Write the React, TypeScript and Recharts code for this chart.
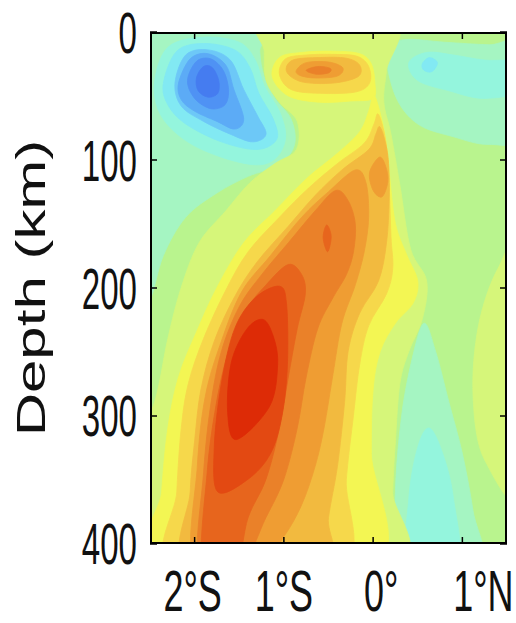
import React from 'react';
import { ScatterChart, Scatter, XAxis, YAxis } from 'recharts';

type Pt = [number, number]; // [longitude in degrees (S negative), depth in km]

const FONT = 'Liberation Sans, Arial, sans-serif';

const W = 516;
const H = 623;
const margin = { top: 32, right: 9, bottom: 79, left: 149 };
const axisBand = 1; // width of the left axis and height of the bottom axis

const xDomain: Pt = [-2.5, 1.5];
const yDomain: Pt = [0, 400];
const xTicks = [-2, -1, 0, 1];
const xTickLabels = ['2°S', '1°S', '0°', '1°N'];
const xLabelNudge = [-2, 0, 8, 21];
const yTicks = [0, 100, 200, 300, 400];

// contour colours, cool (c) and warm (w) levels around the green background
const palette: Record<string, string> = {
  g0: '#b9f48e',
  c1: '#a5f5c2', c2: '#94f5dd', c3: '#82e9f3', c4: '#6dc8f7', c5: '#5cabf6', c6: '#4f92f4', c7: '#457cf0',
  w1: '#d6f67a', w2: '#f3f653', w3: '#f6d84b', w4: '#f2ba3f', w5: '#ef9d33', w6: '#ea8129', w7: '#e7651d', w8: '#e34912', w9: '#dd2b06',
};

// background of the section (slightly larger than the box, clipped to it)
const background: Pt[] = [[-2.7, -20], [1.7, -20], [1.7, 420], [-2.7, 420]];

// cool regions
const coolUpperLeft: Pt[] = [[-2.7, -10], [-1.25, -10], [-1.27, 15], [-1.22, 35], [-1.1, 52], [-0.92, 68], [-0.88, 88], [-1.05, 104], [-1.4, 113], [-1.75, 126], [-2.1, 145], [-2.35, 175], [-2.5, 210], [-2.7, 230]];
const coolTopRight: Pt[] = [[0.15, 15], [0.35, 6], [0.8, 8], [1.3, 10], [1.7, 10], [1.7, 80], [1.3, 88], [0.9, 82], [0.5, 72], [0.25, 50]];
const coolBottomRight: Pt[] = [[0.28, 420], [0.25, 360], [0.32, 300], [0.44, 255], [0.57, 228], [0.7, 250], [0.85, 290], [1.0, 330], [1.12, 375], [1.2, 420]];
const aquaBlob: Pt[] = [[-2.45, 40], [-2.3, 12], [-1.9, 4], [-1.5, 8], [-1.32, 22], [-1.22, 42], [-1.05, 62], [-0.98, 82], [-1.08, 98], [-1.3, 104], [-1.7, 98], [-2.1, 85], [-2.38, 65]];
const aquaTopRight: Pt[] = [[0.4, 24], [0.6, 16], [0.9, 18], [1.25, 22], [1.7, 24], [1.7, 45], [1.25, 52], [0.85, 46], [0.5, 38]];
const aquaBottomRight: Pt[] = [[0.4, 420], [0.4, 365], [0.5, 325], [0.63, 310], [0.78, 330], [0.9, 365], [0.95, 420]];
const cyanBlob: Pt[] = [[-2.35, 40], [-2.2, 15], [-1.9, 9], [-1.55, 14], [-1.38, 28], [-1.28, 48], [-1.12, 68], [-1.08, 84], [-1.3, 92], [-1.7, 86], [-2.1, 72], [-2.3, 57]];
const cyanTopRight: Pt[] = [[0.55, 25], [0.63, 20], [0.72, 24], [0.66, 31], [0.57, 30]];
const lightBlueBlob: Pt[] = [[-2.22, 40], [-2.1, 18], [-1.85, 14], [-1.6, 22], [-1.45, 45], [-1.3, 65], [-1.2, 80], [-1.35, 86], [-1.6, 80], [-1.9, 70], [-2.15, 58]];
const blueBlob: Pt[] = [[-2.18, 40], [-2.05, 21], [-1.85, 17], [-1.65, 26], [-1.56, 45], [-1.45, 68], [-1.55, 76], [-1.75, 70], [-2.0, 62], [-2.15, 53]];
const midBlueBlob: Pt[] = [[-2.08, 38], [-1.98, 23], [-1.82, 21], [-1.68, 30], [-1.62, 45], [-1.66, 57], [-1.82, 60], [-2.0, 52]];
const darkBlueCore: Pt[] = [[-1.98, 36], [-1.9, 27], [-1.8, 28], [-1.73, 38], [-1.74, 48], [-1.85, 51], [-1.96, 46]];

// warm regions
const warmMain: Pt[] = [[-1.22, -10], [0.22, -10], [0.15, 30], [0.12, 55], [0.2, 80], [0.3, 120], [0.42, 170], [0.6, 195], [0.55, 225], [0.4, 250], [0.3, 275], [0.25, 320], [0.22, 360], [0.2, 420], [-2.7, 420], [-2.7, 330], [-2.45, 290], [-2.3, 240], [-2.15, 200], [-1.95, 165], [-1.65, 140], [-1.38, 118], [-1.1, 103], [-0.86, 92], [-0.85, 70], [-1.05, 55], [-1.2, 38], [-1.22, 15]];
const warmRightEdge: Pt[] = [[1.7, 165], [1.4, 185], [1.18, 230], [1.12, 285], [1.25, 335], [1.7, 360]];
const yellowBlob: Pt[] = [[-1.13, 35], [-1.05, 20], [-0.8, 16], [-0.45, 15], [-0.15, 17], [-0.02, 25], [0.02, 40], [0.0, 52], [-0.25, 54], [-0.6, 55], [-0.95, 50]];
const yellowSlab: Pt[] = [[0.0, 50], [0.05, 56], [0.13, 80], [0.18, 110], [0.25, 150], [0.38, 175], [0.5, 195], [0.45, 212], [0.25, 228], [0.08, 250], [0.0, 280], [-0.02, 330], [0.0, 420], [-2.42, 420], [-2.37, 360], [-2.3, 310], [-2.18, 270], [-1.98, 235], [-1.75, 200], [-1.45, 165], [-1.1, 140], [-0.75, 115], [-0.4, 95], [-0.15, 78], [-0.05, 62]];
const paleOrangeBlob: Pt[] = [[-1.05, 33], [-0.98, 21], [-0.75, 18], [-0.45, 17.5], [-0.18, 19], [-0.05, 27], [-0.04, 40], [-0.2, 47], [-0.6, 48], [-0.92, 45]];
const paleOrangeSlab: Pt[] = [[0.05, 64], [0.1, 72], [0.15, 90], [0.18, 120], [0.2, 160], [0.22, 185], [0.15, 205], [-0.05, 230], [-0.15, 260], [-0.22, 300], [-0.3, 350], [-0.37, 420], [-2.23, 420], [-2.2, 360], [-2.15, 310], [-2.07, 275], [-1.9, 240], [-1.65, 202], [-1.4, 172], [-1.05, 145], [-0.72, 122], [-0.4, 103], [-0.1, 87], [0.01, 72]];
const goldBlob: Pt[] = [[-0.97, 31], [-0.9, 22], [-0.6, 20], [-0.3, 20.5], [-0.15, 26], [-0.17, 35], [-0.45, 40], [-0.8, 39]];
const goldSlab: Pt[] = [[0.07, 74], [0.12, 82], [0.17, 100], [0.18, 130], [0.15, 165], [0.06, 195], [-0.15, 220], [-0.28, 250], [-0.32, 290], [-0.4, 340], [-0.5, 380], [-0.56, 420], [-2.07, 420], [-2.05, 360], [-2.0, 320], [-1.93, 280], [-1.78, 242], [-1.55, 207], [-1.3, 180], [-0.95, 152], [-0.65, 128], [-0.35, 108], [-0.05, 92], [0.03, 80]];
const orangeBlob: Pt[] = [[-0.86, 30], [-0.75, 24], [-0.5, 23.5], [-0.34, 28], [-0.4, 34.5], [-0.65, 36], [-0.82, 34]];
const orangeSlab: Pt[] = [[-0.2, 108], [-0.08, 118], [-0.05, 145], [-0.1, 172], [-0.2, 198], [-0.35, 228], [-0.45, 268], [-0.55, 310], [-0.65, 340], [-0.8, 370], [-1.0, 395], [-1.3, 420], [-2.0, 420], [-1.97, 340], [-1.88, 285], [-1.7, 242], [-1.47, 203], [-1.15, 175], [-0.8, 145], [-0.5, 125]];
const orangeSpot: Pt[] = [[0.07, 98], [0.14, 105], [0.165, 117], [0.1, 129], [0.0, 124], [-0.04, 110]];
const darkOrangeBlob: Pt[] = [[-0.75, 30], [-0.62, 27], [-0.48, 28.5], [-0.5, 32], [-0.64, 33]];
const darkOrangeSlab: Pt[] = [[-0.42, 124], [-0.28, 132], [-0.2, 150], [-0.22, 172], [-0.3, 190], [-0.45, 208], [-0.62, 232], [-0.75, 270], [-0.85, 310], [-1.0, 350], [-1.2, 380], [-1.5, 420], [-1.95, 420], [-1.9, 345], [-1.82, 292], [-1.7, 250], [-1.5, 215], [-1.25, 190], [-0.95, 165], [-0.65, 140]];
const redOrangeSpot: Pt[] = [[-0.52, 151], [-0.47, 160], [-0.51, 172], [-0.56, 161]];
const redOrangeSlab: Pt[] = [[-0.95, 182], [-0.8, 190], [-0.76, 205], [-0.85, 232], [-0.95, 270], [-1.05, 310], [-1.2, 350], [-1.4, 380], [-1.55, 420], [-1.91, 420], [-1.86, 345], [-1.76, 292], [-1.63, 252], [-1.45, 220], [-1.2, 198]];
const scarletCore: Pt[] = [[-1.05, 199], [-0.97, 213], [-0.96, 260], [-1.02, 300], [-1.15, 330], [-1.4, 350], [-1.74, 360], [-1.78, 325], [-1.7, 275], [-1.55, 232], [-1.32, 208]];
const redCore: Pt[] = [[-1.235, 225], [-1.12, 238], [-1.07, 260], [-1.16, 293], [-1.53, 319], [-1.63, 298], [-1.59, 259], [-1.42, 233]];

type Layer = { id: string; level: string; pts: Pt[]; flat?: boolean };

const layers: Layer[] = [
  { id: 'background', level: 'g0', pts: background, flat: true },
  { id: 'coolUpperLeft', level: 'c1', pts: coolUpperLeft },
  { id: 'coolTopRight', level: 'c1', pts: coolTopRight },
  { id: 'coolBottomRight', level: 'c1', pts: coolBottomRight },
  { id: 'aquaBlob', level: 'c2', pts: aquaBlob },
  { id: 'aquaTopRight', level: 'c2', pts: aquaTopRight },
  { id: 'aquaBottomRight', level: 'c2', pts: aquaBottomRight },
  { id: 'cyanBlob', level: 'c3', pts: cyanBlob },
  { id: 'cyanTopRight', level: 'c3', pts: cyanTopRight },
  { id: 'lightBlueBlob', level: 'c4', pts: lightBlueBlob },
  { id: 'blueBlob', level: 'c5', pts: blueBlob },
  { id: 'midBlueBlob', level: 'c6', pts: midBlueBlob },
  { id: 'darkBlueCore', level: 'c7', pts: darkBlueCore },
  { id: 'warmMain', level: 'w1', pts: warmMain },
  { id: 'warmRightEdge', level: 'w1', pts: warmRightEdge },
  { id: 'yellowBlob', level: 'w2', pts: yellowBlob },
  { id: 'yellowSlab', level: 'w2', pts: yellowSlab },
  { id: 'paleOrangeBlob', level: 'w3', pts: paleOrangeBlob },
  { id: 'paleOrangeSlab', level: 'w3', pts: paleOrangeSlab },
  { id: 'goldBlob', level: 'w4', pts: goldBlob },
  { id: 'goldSlab', level: 'w4', pts: goldSlab },
  { id: 'orangeBlob', level: 'w5', pts: orangeBlob },
  { id: 'orangeSlab', level: 'w5', pts: orangeSlab },
  { id: 'orangeSpot', level: 'w5', pts: orangeSpot },
  { id: 'darkOrangeBlob', level: 'w6', pts: darkOrangeBlob },
  { id: 'darkOrangeSlab', level: 'w6', pts: darkOrangeSlab },
  { id: 'redOrangeSpot', level: 'w7', pts: redOrangeSpot },
  { id: 'redOrangeSlab', level: 'w7', pts: redOrangeSlab },
  { id: 'scarletCore', level: 'w8', pts: scarletCore },
  { id: 'redCore', level: 'w9', pts: redCore },
];

type XY = { x: number; y: number };

// smooth closed curve through the scaled vertices (Catmull-Rom as cubic Beziers)
function closedSpline(pts: XY[]): string {
  const n = pts.length;
  if (n < 3) return '';
  let d = `M${pts[0].x},${pts[0].y}`;
  for (let i = 0; i < n; i++) {
    const p0 = pts[(i - 1 + n) % n];
    const p1 = pts[i];
    const p2 = pts[(i + 1) % n];
    const p3 = pts[(i + 2) % n];
    const c1x = p1.x + (p2.x - p0.x) / 6;
    const c1y = p1.y + (p2.y - p0.y) / 6;
    const c2x = p2.x - (p3.x - p1.x) / 6;
    const c2y = p2.y - (p3.y - p1.y) / 6;
    d += `C${c1x},${c1y} ${c2x},${c2y} ${p2.x},${p2.y}`;
  }
  return d + 'Z';
}

function flatPath(pts: XY[]): string {
  return `M${pts.map((q) => `${q.x},${q.y}`).join('L')}Z`;
}

// plot box in page pixels, matching the chart margins
const box = {
  left: margin.left + axisBand,
  right: W - margin.right,
  top: margin.top,
  bottom: H - margin.bottom,
};
const px = (lon: number) => box.left + ((lon - xDomain[0]) / (xDomain[1] - xDomain[0])) * (box.right - box.left);
const py = (d: number) => box.top + ((d - yDomain[0]) / (yDomain[1] - yDomain[0])) * (box.bottom - box.top);

const BottomTick = (props: any) => {
  const { x, y, payload } = props;
  const i = xTicks.indexOf(payload.value);
  return (
    <text transform={`translate(${x + xLabelNudge[i]},${y + 68}) scale(0.62,1)`} textAnchor="middle" fontSize={58} fontFamily={FONT} fill="#111">
      {xTickLabels[i]}
    </text>
  );
};

const LeftTick = (props: any) => {
  const { x, y, payload } = props;
  return (
    <text transform={`translate(${x - 13},${y + 21}) scale(0.58,1)`} textAnchor="end" fontSize={57} fontFamily={FONT} fill="#111">
      {payload.value}
    </text>
  );
};

const DepthTitle = () => (
  <text transform="translate(45,288) rotate(-90) scale(1,0.69)" textAnchor="middle" fontSize={60} fontFamily={FONT} fill="#111">
    Depth (km)
  </text>
);

// box outline with inward tick marks, laid over the plot
const Frame = () => (
  <svg width={W} height={H} style={{ position: 'absolute', left: 0, top: 0, pointerEvents: 'none' }}>
    <rect x={box.left + 1} y={box.top + 1} width={box.right - box.left - 2} height={box.bottom - box.top - 2}
      fill="none" stroke="#000" strokeWidth={2} />
    {xTicks.map((v) => (
      <g key={`x${v}`}>
        <line x1={px(v)} y1={box.top} x2={px(v)} y2={box.top + 7} stroke="#000" strokeWidth={1.5} />
        <line x1={px(v)} y1={box.bottom} x2={px(v)} y2={box.bottom - 7} stroke="#000" strokeWidth={1.5} />
      </g>
    ))}
    {yTicks.map((v) => (
      <g key={`y${v}`}>
        <line x1={box.left} y1={py(v)} x2={box.left + 7} y2={py(v)} stroke="#000" strokeWidth={1.5} />
        <line x1={box.right} y1={py(v)} x2={box.right - 7} y2={py(v)} stroke="#000" strokeWidth={1.5} />
      </g>
    ))}
  </svg>
);

export default function App() {
  return (
    <div style={{ position: 'absolute', left: 0, top: 0, width: W, height: H, background: '#fff' }}>
      <ScatterChart width={W} height={H} margin={margin}>
        <XAxis type="number" dataKey="lon" domain={xDomain} allowDataOverflow ticks={xTicks} interval={0}
          height={axisBand} tickSize={0} tickMargin={0} tickLine={false} axisLine={false} tick={<BottomTick />} />
        <YAxis type="number" dataKey="depth" domain={yDomain} reversed allowDataOverflow ticks={yTicks} interval={0}
          width={axisBand} tickSize={0} tickMargin={0} tickLine={false} axisLine={false} tick={<LeftTick />} label={<DepthTitle />} />
        {layers.map((layer) => {
          const color = palette[layer.level];
          const build = layer.flat ? flatPath : closedSpline;
          return (
            <Scatter
              key={layer.id}
              name={layer.id}
              data={layer.pts.map(([lon, depth]) => ({ lon, depth }))}
              isAnimationActive={false}
              legendType="none"
              shape={() => <g />}
              line={(p: any) => <path d={build(p.points)} fill={color} stroke={color} strokeWidth={0.8} />}
            />
          );
        })}
      </ScatterChart>
      <Frame />
    </div>
  );
}
